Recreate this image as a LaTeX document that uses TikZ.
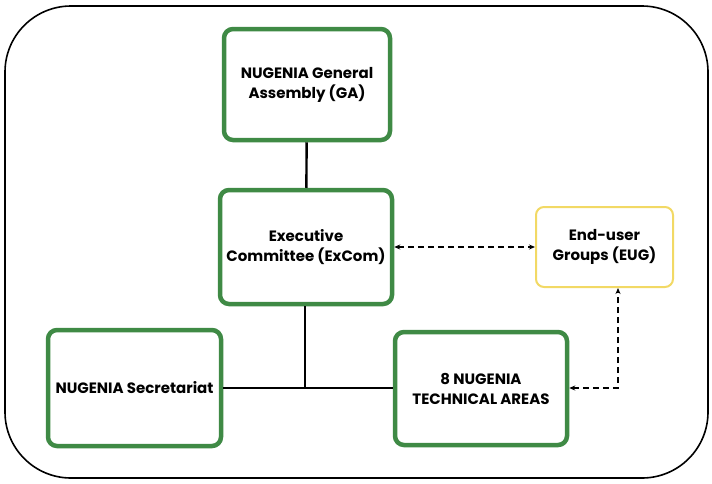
\documentclass[tikz,border=0pt]{standalone}
\usepackage{fontspec}
\setmainfont{Poppins}
\usetikzlibrary{arrows.meta}
\definecolor{nugreen}{HTML}{3F8A45}
\definecolor{nuyellow}{HTML}{F2D965}
\begin{document}
\begin{tikzpicture}[x=1pt,y=-1pt,
    gbox/.style={draw=nugreen,line width=4.5pt,rounded corners=9pt,align=center,
      font=\fontsize{15}{20}\selectfont\bfseries,inner sep=2pt},
    ybox/.style={draw=nuyellow,line width=2pt,rounded corners=8pt,align=center,
      font=\fontsize{15}{20}\selectfont\bfseries,inner sep=2pt},
    link/.style={line width=2.4pt},
    dlink/.style={line width=1.8pt,dash pattern=on 6pt off 4pt,{Stealth[length=6pt,width=5pt]}-{Stealth[length=6pt,width=5pt]}}]
      \useasboundingbox (0,0) rectangle (712,483);
      \draw[line width=1.6pt,rounded corners=66pt] (5,6) rectangle (708,478);
      \node[gbox,minimum width=166pt,minimum height=111pt] (ga) at (307,84.5) {NUGENIA General\\Assembly (GA)};
      \node[gbox,minimum width=172pt,minimum height=114pt] (excom) at (306,247) {Executive\\Committee (ExCom)};
      \node[ybox,minimum width=137pt,minimum height=80pt] (eug) at (604.5,247) {End-user\\Groups (EUG)};
      \node[gbox,minimum width=173pt,minimum height=116pt] (secr) at (134.5,388) {NUGENIA Secretariat};
      \node[gbox,minimum width=172pt,minimum height=113pt] (tech) at (481,388.5) {8 NUGENIA\\TECHNICAL AREAS};
      \coordinate (junc) at (305,388);
      \coordinate (bend) at (618,388);
      \draw[link] (ga) -- (excom);
      \draw[link] (excom.south -| junc) -- (junc);
      \draw[link] (secr.east |- junc) -- (tech.west |- junc);
      \draw[dlink] (excom) -- (eug);
      \draw[dlink] (tech.east |- bend) -- (bend) -- (bend |- eug.south);
\end{tikzpicture}
\end{document}
